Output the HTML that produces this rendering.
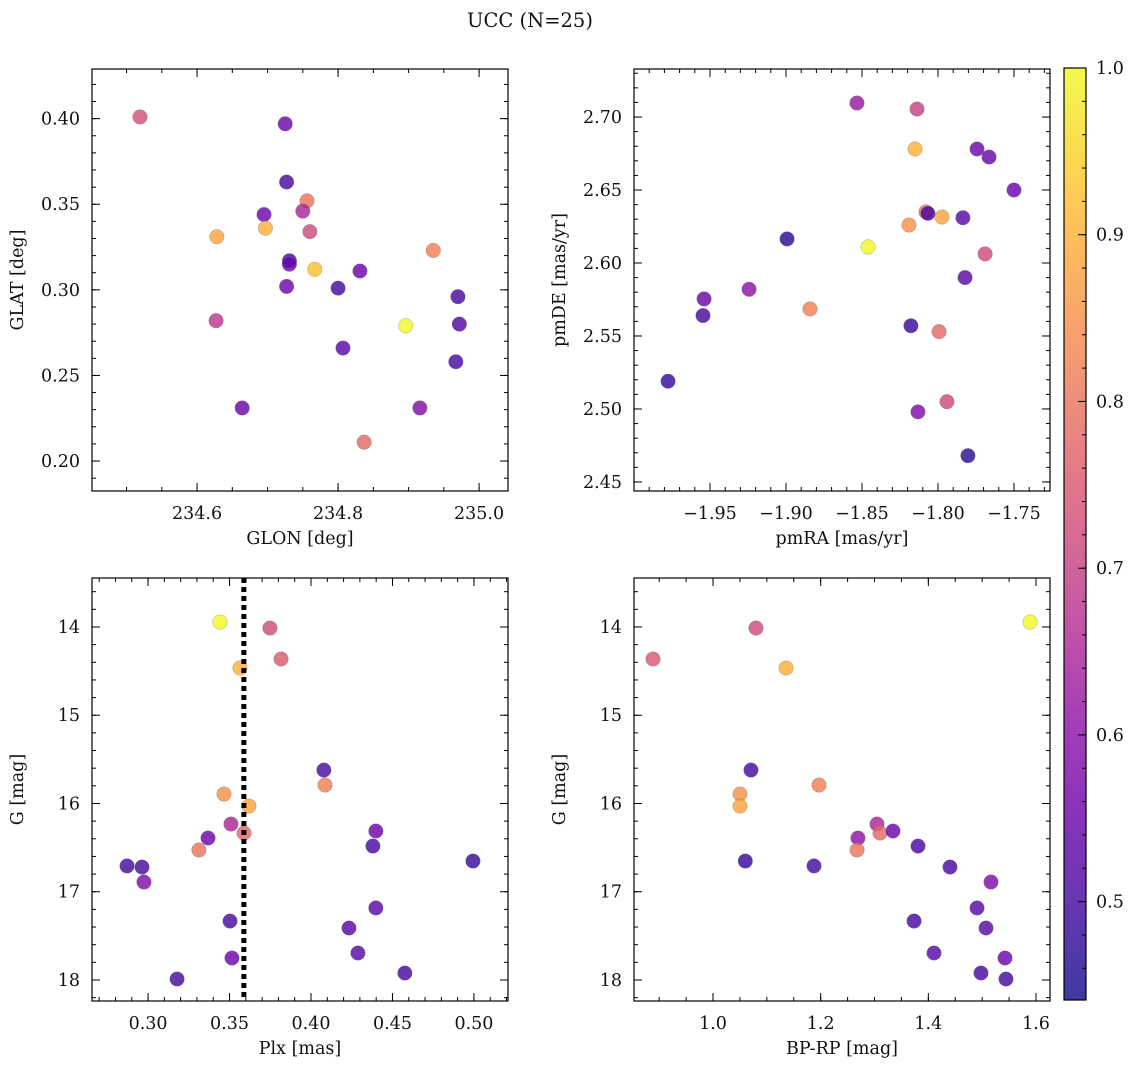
<!DOCTYPE html>
<html><head><meta charset="utf-8">
<style>
body{margin:0;background:#fff;}
svg{display:block;font-family:"DejaVu Serif","Liberation Serif",serif;}
</style></head>
<body>
<svg id="fig" width="1136" height="1068" viewBox="0 0 1136 1068">
<text x="530" y="27" font-size="19.5" text-anchor="middle" fill="#111">UCC (N=25)</text>
</svg>
<script>
// Panel 1: GLON vs GLAT
const p1X=[234.519,234.725,234.727,234.756,234.695,234.750,234.628,234.697,234.760,234.731,234.731,234.767,234.935,234.831,234.800,234.727,234.970,234.896,234.972,234.627,234.807,234.967,234.664,234.916,234.837];
const p1Y=[0.401,0.397,0.363,0.352,0.344,0.346,0.331,0.336,0.334,0.317,0.315,0.312,0.323,0.311,0.301,0.302,0.296,0.279,0.280,0.282,0.266,0.258,0.231,0.231,0.211];
const p1P=[0.73,0.55,0.5,0.8,0.55,0.65,0.88,0.9,0.72,0.5,0.55,0.92,0.82,0.55,0.5,0.55,0.5,1.0,0.52,0.68,0.52,0.5,0.55,0.58,0.78];
// Panel 2: pmRA vs pmDE
const p2X=[-1.8533,-1.8138,-1.8151,-1.7743,-1.7664,-1.750,-1.8079,-1.8066,-1.7974,-1.7836,-1.8191,-1.8993,-1.846,-1.769,-1.7822,-1.9243,-1.8842,-1.9539,-1.9546,-1.8178,-1.7993,-1.9776,-1.7941,-1.8132,-1.7803];
const p2Y=[2.7096,2.7055,2.6781,2.6781,2.6726,2.650,2.635,2.634,2.6315,2.631,2.626,2.6165,2.611,2.6062,2.590,2.582,2.5685,2.5754,2.564,2.557,2.553,2.519,2.505,2.498,2.468];
const p2P=[0.62,0.7,0.9,0.55,0.55,0.55,0.78,0.5,0.88,0.52,0.85,0.47,1.0,0.72,0.53,0.6,0.82,0.55,0.5,0.48,0.78,0.48,0.72,0.58,0.47];
// Panel 3: Plx vs G
const p3X=[0.3441,0.3748,0.3564,0.3816,0.4079,0.4086,0.3466,0.3619,0.3509,0.3589,0.3368,0.3312,0.4398,0.4380,0.4994,0.2871,0.2963,0.2975,0.4398,0.3503,0.4233,0.4288,0.3515,0.4576,0.3178];
const p3Y=[13.944,14.012,14.465,14.363,15.621,15.791,15.893,16.029,16.233,16.335,16.391,16.527,16.312,16.482,16.652,16.708,16.720,16.890,17.184,17.332,17.411,17.694,17.751,17.921,17.989];
const p3P=[1.0,0.72,0.9,0.75,0.5,0.82,0.85,0.88,0.65,0.78,0.55,0.8,0.55,0.5,0.48,0.5,0.5,0.58,0.52,0.5,0.52,0.52,0.55,0.5,0.5];
const plxLine=[0.3588];
// Panel 4: BP-RP vs G
const p4X=[1.5889,1.0798,0.8885,1.1356,1.0705,1.1969,1.0501,1.0501,1.3046,1.3102,1.3343,1.2693,1.2675,1.3808,1.060,1.4402,1.1876,1.5164,1.4904,1.3734,1.5071,1.4105,1.5424,1.4978,1.5442];
const p4Y=[13.944,14.012,14.363,14.465,15.621,15.791,15.893,16.029,16.233,16.335,16.312,16.391,16.527,16.482,16.652,16.720,16.708,16.890,17.184,17.332,17.411,17.694,17.751,17.921,17.989];
const p4P=[1.0,0.72,0.75,0.9,0.5,0.82,0.85,0.88,0.65,0.78,0.55,0.6,0.8,0.5,0.48,0.5,0.5,0.58,0.52,0.5,0.52,0.52,0.55,0.5,0.5];
// Tick labels
const p1XT=[234.6,234.8,235.0]; const p1XL=["234.6","234.8","235.0"];
const p1YT=[0.20,0.25,0.30,0.35,0.40]; const p1YL=["0.20","0.25","0.30","0.35","0.40"];
const p2XT=[-1.95,-1.90,-1.85,-1.80,-1.75]; const p2XL=["\u22121.95","\u22121.90","\u22121.85","\u22121.80","\u22121.75"];
const p2YT=[2.45,2.50,2.55,2.60,2.65,2.70]; const p2YL=["2.45","2.50","2.55","2.60","2.65","2.70"];
const p3XT=[0.30,0.35,0.40,0.45,0.50]; const p3XL=["0.30","0.35","0.40","0.45","0.50"];
const gT=[14,15,16,17,18]; const gL=["14","15","16","17","18"];
const p4XT=[1.0,1.2,1.4,1.6]; const p4XL=["1.0","1.2","1.4","1.6"];
const cbT=[0.5,0.6,0.7,0.8,0.9,1.0]; const cbL=["0.5","0.6","0.7","0.8","0.9","1.0"];

const NS="http://www.w3.org/2000/svg";
const FS=17.5;
const svg=document.getElementById('fig');
function mk(tag,attrs,parent){const e=document.createElementNS(NS,tag);for(const k in attrs)e.setAttribute(k,attrs[k]);(parent||svg).appendChild(e);return e;}
const stops=[[13,8,135],[65,4,157],[106,0,168],[143,13,164],[177,42,144],[204,71,120],[225,100,98],[242,132,75],[252,166,54],[252,206,37],[240,249,33]];
const CMIN=0.441,CMAX=1.0;
function plasma(v){let t=(v-CMIN)/(CMAX-CMIN);t=Math.max(0,Math.min(1,t));const f=t*10,i=Math.min(9,Math.floor(f)),r=f-i;const a=stops[i],b=stops[i+1];
 const c=a.map((x,k)=>Math.round(x+(b[k]-x)*r));return `rgb(${c[0]},${c[1]},${c[2]})`;}

function panel(name,box,xr,yr,xt,xl,xminor,yt,yl,yminor,xs,ys,ps,xlabel,ylabel,invertY){
  const g=mk('g',{});  
  const [L,T,R,B]=box;
  const sx=v=>L+(v-xr[0])/(xr[1]-xr[0])*(R-L);
  const sy=invertY? v=>T+(v-yr[0])/(yr[1]-yr[0])*(B-T) : v=>B-(v-yr[0])/(yr[1]-yr[0])*(B-T);
  for(let i=0;i<xs.length;i++){
    const c=mk('circle',{cx:sx(xs[i]),cy:sy(ys[i]),r:7.3,fill:plasma(ps[i]),'fill-opacity':0.8,stroke:'#777','stroke-width':0.5,'stroke-opacity':0.6},g);
    
    
  }
  const tk=(x1,y1,x2,y2)=>mk('line',{x1,y1,x2,y2,stroke:'#000','stroke-width':1},g);
  const xstep=xt[1]-xt[0], ystep=yt[1]-yt[0];
  for(let v=xt[0]-xstep;v<=xt[xt.length-1]+xstep+1e-9;v+=xstep/xminor){
    const p=sx(v); if(p<L-0.5||p>R+0.5)continue; tk(p,B,p,B-4);tk(p,T,p,T+4);}
  for(let v=yt[0]-ystep;v<=yt[yt.length-1]+ystep+1e-9;v+=ystep/yminor){
    const p=sy(v); if(p<T-0.5||p>B+0.5)continue; tk(L,p,L+4,p);tk(R,p,R-4,p);}
  xt.forEach((v,i)=>{const p=sx(v);tk(p,B,p,B-8);tk(p,T,p,T+8);
    const t=mk('text',{x:p,y:B+28,'font-size':FS,'text-anchor':'middle',fill:'#111'},g);t.textContent=xl[i];
    });
  yt.forEach((v,i)=>{const p=sy(v);tk(L,p,L+8,p);tk(R,p,R-8,p);
    const t=mk('text',{x:L-12,y:p+6,'font-size':FS,'text-anchor':'end',fill:'#111'},g);t.textContent=yl[i];
    });
  mk('rect',{x:L,y:T,width:R-L,height:B-T,fill:'none',stroke:'#000','stroke-width':1.2},g);
  const xlT=mk('text',{x:(L+R)/2,y:B+53,'font-size':FS,'text-anchor':'middle',fill:'#111'},g);xlT.textContent=xlabel;
  
  const ylx=L-69, yly=(T+B)/2;
  const ylT=mk('text',{x:ylx,y:yly,'font-size':FS,'text-anchor':'middle',fill:'#111',transform:`rotate(-90 ${ylx} ${yly})`},g);ylT.textContent=ylabel;
  
  return {g,sx,sy,T,B};
}
panel('glon-glat-panel',[92,69,508,491],[234.451,235.041],[0.1825,0.429],p1XT,p1XL,4,p1YT,p1YL,5,p1X,p1Y,p1P,'GLON [deg]','GLAT [deg]',false);
panel('pm-panel',[634,69,1050,491],[-2.0,-1.7263],[2.4438,2.7329],p2XT,p2XL,5,p2YT,p2YL,5,p2X,p2Y,p2P,'pmRA [mas/yr]','pmDE [mas/yr]',false);
const P3=panel('plx-g-panel',[92,578,508,1001],[0.2656,0.5209],[13.445,18.238],p3XT,p3XL,5,gT,gL,5,p3X,p3Y,p3P,'Plx [mas]','G [mag]',true);
panel('cmd-panel',[634,578,1050,1001],[0.8532,1.626],[13.445,18.238],p4XT,p4XL,4,gT,gL,5,p4X,p4Y,p4P,'BP-RP [mag]','G [mag]',true);
const dl=mk('line',{x1:P3.sx(plxLine[0]),x2:P3.sx(plxLine[0]),y1:P3.T,y2:P3.B,stroke:'#000','stroke-width':5,'stroke-dasharray':'5 4'},P3.g);


const cb=mk('g',{});


const defs=mk('defs',{});
const lg=mk('linearGradient',{id:'cbg',x1:0,y1:1,x2:0,y2:0},defs);
for(let k=0;k<=20;k++){const v=CMIN+(CMAX-CMIN)*k/20;mk('stop',{offset:k/20,'stop-color':plasma(v),'stop-opacity':0.8},lg);}
const CT=68,CB=1000,CL=1064,CR=1086;
mk('rect',{x:CL,y:CT,width:CR-CL,height:CB-CT,fill:'url(#cbg)',stroke:'#000','stroke-width':1.2},cb);
const cy=v=>CB-(v-CMIN)/(CMAX-CMIN)*(CB-CT);
for(let v=0.46;v<=1.0001;v+=0.02){const p=cy(v);mk('line',{x1:CR,x2:CR-4,y1:p,y2:p,stroke:'#000','stroke-width':1},cb);}
cbT.forEach((v,i)=>{const p=cy(v);mk('line',{x1:CR,x2:CR-8,y1:p,y2:p,stroke:'#000','stroke-width':1},cb);
 const t=mk('text',{x:CR+10,y:p+6,'font-size':FS,fill:'#111'},cb);t.textContent=cbL[i];
 });
</script>
</body></html>
